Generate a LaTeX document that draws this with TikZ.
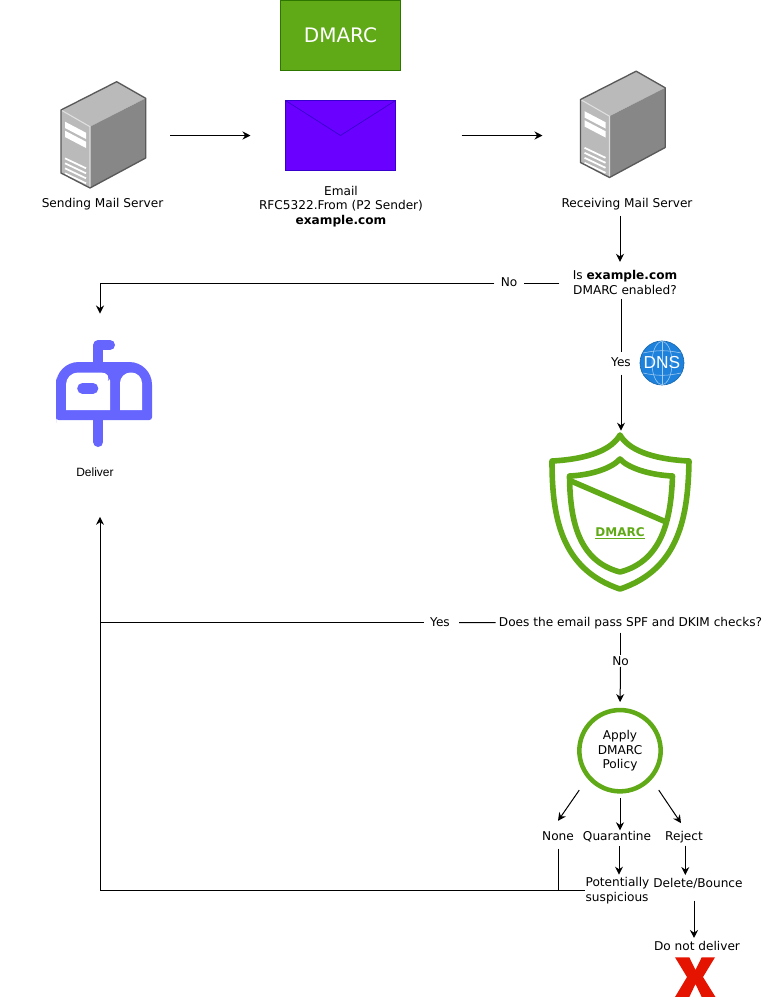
\documentclass[tikz,border=0pt]{standalone}
\usepackage{fontspec}
\setmainfont{DejaVu Sans}
\newfontfamily\arialfont{Liberation Sans}
\usepackage{xcolor}
\usepackage{tikz}
\usetikzlibrary{shapes,arrows.meta,positioning}

\definecolor{dmarcgreen}{HTML}{60A917}
\definecolor{dmarcedge}{HTML}{2D7600}
\definecolor{mailviolet}{HTML}{6A00FF}
\definecolor{mailedge}{HTML}{3700CC}
\definecolor{boxblue}{HTML}{6666FF}
\definecolor{dnsblue}{HTML}{1E82DC}
\definecolor{xred}{HTML}{E51400}

\tikzset{
    srvicon/.pic={
        \fill[black!27] (0,28.3) -- (55.7,0) -- (84.7,16.6) -- (29,45) -- cycle;
        \fill[black!27] (0,28.3) -- (29,45) -- (29,106.3) -- (0,91.3) -- cycle;
        \fill[black!47] (29,45) -- (84.7,16.6) -- (84.7,76.3) -- (29,106.3) -- cycle;
        \fill[white] (4,40) -- (25,51) -- (25,57.3) -- (4,46.3) -- cycle;
        \fill[white] (4,49) -- (25,60) -- (25,66.3) -- (4,55.3) -- cycle;
        \foreach \i in {0,...,3}
            \draw[white, line width=1.3pt] (4,76.6+5*\i) -- (25,86.6+5*\i);
        \draw[black!12, line width=0.8pt] (0,28.3) -- (29,45) -- (29,106.3);
        \draw[black!65, line width=1pt, line join=round] (0,28.3) -- (55.7,0) -- (84.7,16.6) -- (84.7,76.3) -- (29,106.3) -- (0,91.3) -- cycle;
    }
}

\begin{document}
\begin{tikzpicture}[
    x=0.75pt, y=-0.75pt,
    font=\fontsize{9.1pt}{11pt}\selectfont,
    >={Stealth[length=6pt, width=6pt]},
    lbl/.style={align=center, inner sep=1pt, outer sep=0pt},
    iconbox/.style={inner sep=0pt, outer sep=0pt},
    conn/.style={draw, black, line width=0.75pt}
]
    \useasboundingbox (0,0) rectangle (775,997);

    % top row
    \node[draw=dmarcedge, fill=dmarcgreen, text=white, font=\fontsize{15pt}{18pt}\selectfont, minimum width=90pt, minimum height=52.5pt, inner sep=0pt] (dmarcbox) at (340.5,35.2) {DMARC};
    \pic at (61,81.7) {srvicon};
    \node[iconbox, minimum width=63.75pt, minimum height=80pt] (sendsrv) at (103.5,135.5) {};
    \node[lbl] (sendlbl) at (102.5,204) {Sending Mail Server};
    \node[iconbox, draw=mailedge, fill=mailviolet, minimum width=82.5pt, minimum height=52.5pt] (email) at (340.5,135.5) {};
    \draw[mailedge, line width=0.5pt] (email.north west) -- (340.5,135.5) -- (email.north east);
    \node[lbl] (emaillbl) at (341,206.5) {Email\\RFC5322.From (P2 Sender)\\\textbf{example.com}};
    \pic at (580.5,71.2) {srvicon};
    \node[iconbox, minimum width=63.75pt, minimum height=80pt] (recvsrv) at (623,125) {};
    \node[lbl] (recvlbl) at (627,204) {Receiving Mail Server};

    % first decision
    \node[lbl] (isdmarc) at (625,282.5) {Is \textbf{example.com}\\DMARC enabled?};
    \node[lbl] (nolbl) at (509,282) {No};
    \node[lbl] (yeslbl) at (621,362) {Yes};
    \node[iconbox, circle, fill=dnsblue, draw=dnsblue!80!black, line width=0.5pt, minimum size=33pt] (dnsglobe) at (662,363) {};
    \draw[white!60!dnsblue, line width=0.4pt] (dnsglobe.center) ellipse (10 and 21.5);
    \draw[white!60!dnsblue, line width=0.4pt] (662,341.5) -- (662,384.5);
    \draw[white!60!dnsblue, line width=0.4pt] (643,353) to[bend left=12] (681,353);
    \draw[white!60!dnsblue, line width=0.4pt] (643,373) to[bend right=12] (681,373);
    \node[iconbox, text=white, font=\arialfont\fontsize{13pt}{15pt}\selectfont] (dnstxt) at (662,363) {DNS};

    % mailbox
    \draw[boxblue, line width=7.5pt, line cap=round, line join=round] (98.3,364) -- (98.3,345) -- (110,345);
    \draw[boxblue, line width=7.5pt, line cap=round] (98.3,418) -- (98.3,442);
    \fill[boxblue] (56,400) [rounded corners=2pt] -- (56,420) -- (152,420) -- (152,400) [rounded corners=17pt] -- (152,362) -- (56,362) -- cycle;
    \fill[white] (66,410) [rounded corners=9pt] -- (66,372.5) -- (113,372.5) [sharp corners] to[out=240, in=90] (110,384) -- (110,410) -- cycle;
    \fill[white] (120,410) [rounded corners=8pt] -- (120,372.5) -- (142,372.5) [sharp corners] -- (142,410) -- cycle;
    \draw[boxblue, line width=8pt, line cap=round] (82.5,388.3) -- (93,388.3);
    \node[iconbox, minimum width=72pt, minimum height=80pt] (mailbox) at (100,393.5) {};
    \node[lbl, font=\arialfont\fontsize{9pt}{11pt}\selectfont] (delivlbl) at (95,472.5) {Deliver};

    % shield
    \draw[dmarcgreen, line width=4.2pt, line join=round] (620,435) .. controls (612,449) and (590,459) .. (552,461)
        .. controls (552,515) and (560,569) .. (620,589)
        .. controls (680,569) and (688,515) .. (689,461)
        .. controls (650,459) and (628,449) .. (620,435) -- cycle;
    \draw[dmarcgreen, line width=4.2pt, line join=round] (620,459) .. controls (612,468) and (592,475) .. (569.5,476)
        .. controls (570,520) and (578,561) .. (620,572)
        .. controls (662,561) and (671,520) .. (672.5,476)
        .. controls (650,475) and (628,468) .. (620,459) -- cycle;
    \draw[dmarcgreen, line width=4.2pt] (571,481) -- (665,521.5);
    \node[lbl, text=dmarcgreen, font=\bfseries\fontsize{9pt}{11pt}\selectfont] (shieldlbl) at (620,533) {\underline{DMARC}};
    \node[iconbox, minimum width=105pt, minimum height=120pt] (shield) at (620.5,512) {};

    % second decision
    \node[lbl] (passlbl) at (630.5,622.7) {Does the email pass SPF and DKIM checks?};
    \node[lbl] (yespass) at (440,622.5) {Yes};
    \node[lbl] (nopass) at (620.5,661) {No};
    \node[iconbox, circle, draw=dmarcgreen, line width=3.4pt, minimum size=61pt, align=center] (policy) at (620,750.7) {Apply\\DMARC\\Policy};

    % outcomes
    \node[lbl] (nonelbl) at (558,836) {None};
    \node[lbl] (quarlbl) at (617,837) {Quarantine};
    \node[lbl] (rejlbl) at (684,837) {Reject};
    \node[lbl, anchor=west, align=left, inner sep=0.5pt] (potsusp) at (585,890.5) {Potentially\\suspicious};
    \node[lbl] (delbounce) at (698,883.5) {Delete/Bounce};
    \node[lbl] (donot) at (697,946) {Do not deliver};
    \fill[xred] (675,957.3) -- (689.3,957.3) -- (695.5,970) -- (701.7,957.3) -- (715,957.3) -- (703,977) -- (715.5,997)
        -- (701.7,997) -- (695.5,984) -- (689.3,997) -- (675,997) -- (687,977) -- cycle;

    % connectors
    \draw[->, conn, shorten <=18pt, shorten >=26.25pt] (sendsrv) -- (email);
    \draw[->, conn, shorten <=49.5pt, shorten >=28.5pt] (email) -- (email -| recvsrv.west);
    \draw[->, conn, shorten <=3.5pt, shorten >=5.5pt] ([xshift=-5.25pt]recvlbl.south) -- ([xshift=-3.75pt]isdmarc.north);
    \draw[conn, shorten <=9pt, shorten >=3.75pt] ([yshift=-0.75pt]isdmarc.west |- nolbl.east) -- ([yshift=-0.75pt]nolbl.east);
    \draw[->, conn, shorten <=3.75pt, shorten >=20pt] ([yshift=-0.75pt]nolbl.west) -| (mailbox.north);
    \draw[conn, shorten <=2.25pt, shorten >=3pt] (isdmarc.south -| yeslbl) -- (yeslbl.north);
    \draw[->, conn, shorten <=5pt, shorten >=1pt] (yeslbl.south) -- (yeslbl.south |- shield.north);
    \draw[conn, shorten <=1.5pt, shorten >=6pt] (passlbl.west) -- (yespass.east);
    \draw[conn, shorten <=3.75pt] (yespass.west) -- (yespass.west -| mailbox);
    \draw[conn, shorten <=2pt, shorten >=0pt] (passlbl.south -| nopass) -- (nopass.north);
    \draw[->, conn, shorten >=6pt] (nopass.south) -- (policy.north);
    \draw[->, conn] ([shift={(-9pt,-8pt)}]policy.225) -- ([yshift=7pt]nonelbl.north);
    \draw[->, conn, shorten <=5.25pt] (policy.south) -- (policy.south |- quarlbl.north);
    \draw[->, conn] ([shift={(7.5pt,-8pt)}]policy.315) -- ([shift={(-2.25pt,5pt)}]rejlbl.north);
    \draw[->, conn, shorten <=2pt, shorten >=1.5pt] ([xshift=1.5pt]quarlbl.south) -- ([xshift=1.5pt]quarlbl.south |- potsusp.north);
    \draw[->, conn, shorten <=1pt, shorten >=1.5pt] ([xshift=1pt]rejlbl.south) -- ([xshift=1pt]rejlbl.south |- delbounce.north);
    \draw[->, conn, shorten <=8pt, shorten >=1.5pt] ([xshift=-3pt]delbounce.south) -- ([xshift=-3pt]delbounce.south |- donot.north);
    \draw[conn, shorten <=5pt] (nonelbl.south) -- (nonelbl.south |- potsusp.west);
    \draw[->, conn, shorten >=52.5pt] (potsusp.west) -| (mailbox.south);
\end{tikzpicture}
\end{document}
